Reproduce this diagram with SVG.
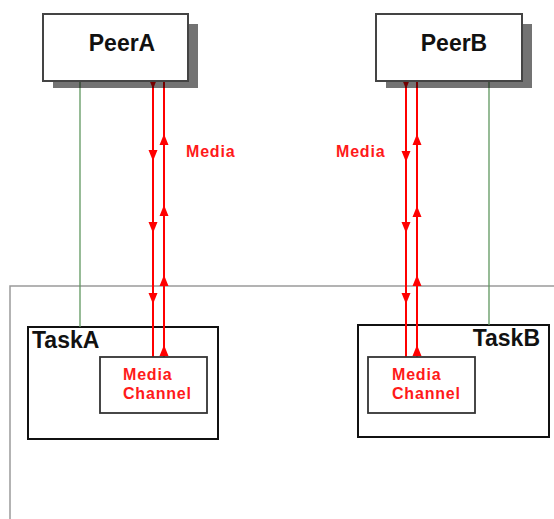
<svg xmlns="http://www.w3.org/2000/svg" xmlns:xlink="http://www.w3.org/1999/xlink" width="554" height="519" viewBox="0 0 554 519">
<style>
.frame{fill:none;stroke:#9a9a9a;stroke-width:1.5}
.peer{fill:#fff;stroke:#444;stroke-width:2}
.shadow{fill:#000;opacity:0.55}
.task{fill:#fff;stroke:#111;stroke-width:2}
.chan{fill:#fff;stroke:#333;stroke-width:1.8}
.red{stroke:#ff0000;stroke-width:2;fill:none}
.grn{stroke:#5f975f;stroke-width:1.3;fill:none}
.ah{fill:#ff0000}
.t{font-family:"Liberation Sans",Arial,sans-serif;font-weight:bold}
.big{font-size:23px;fill:#111}
.lbl{font-size:16px;letter-spacing:0.8px;fill:#ff1a1a}
</style>
<defs>
<path id="dn" d="M0,0 L-4.5,-11 L4.5,-11 Z"/>
<path id="up" d="M0,0 L-4.5,11 L4.5,11 Z"/>
</defs>
<polyline class="frame" points="10,519 10,286 554,286"/>
<g id="TaskA">
<rect class="task" x="28" y="327" width="190" height="112"/>
<text class="t big" x="32" y="348">TaskA</text>
</g>
<g id="TaskB">
<rect class="task" x="358" y="325" width="191" height="112"/>
<text class="t big" x="540" y="346" text-anchor="end">TaskB</text>
</g>
<g id="connectors">
<line class="grn" x1="80" y1="81" x2="80" y2="327"/>
<line class="grn" x1="489" y1="81" x2="489" y2="325"/>
<line class="red" x1="153" y1="81" x2="153" y2="357"/>
<line class="red" x1="164" y1="81" x2="164" y2="357"/>
<line class="red" x1="406" y1="81" x2="406" y2="357"/>
<line class="red" x1="417" y1="81" x2="417" y2="357"/>
<g class="ah">
<use xlink:href="#dn" x="153" y="89"/>
<use xlink:href="#dn" x="153" y="161"/>
<use xlink:href="#dn" x="153" y="233"/>
<use xlink:href="#dn" x="153" y="304"/>
<use xlink:href="#up" x="164" y="134"/>
<use xlink:href="#up" x="164" y="205"/>
<use xlink:href="#up" x="164" y="275"/>
<use xlink:href="#up" x="164" y="345"/>
<use xlink:href="#dn" x="406" y="89"/>
<use xlink:href="#dn" x="406" y="162"/>
<use xlink:href="#dn" x="406" y="233"/>
<use xlink:href="#dn" x="406" y="304"/>
<use xlink:href="#up" x="417" y="134"/>
<use xlink:href="#up" x="417" y="206"/>
<use xlink:href="#up" x="417" y="275"/>
<use xlink:href="#up" x="417" y="345"/>
</g>
<text class="t lbl" x="186" y="157">Media</text>
<text class="t lbl" x="336" y="157">Media</text>
</g>
<g id="MediaChannelA">
<rect class="chan" x="100" y="357" width="107" height="56"/>
<text class="t lbl" x="123" y="380">Media</text>
<text class="t lbl" x="123" y="398.5">Channel</text>
</g>
<g id="MediaChannelB">
<rect class="chan" x="368" y="357" width="107" height="56"/>
<text class="t lbl" x="392" y="380">Media</text>
<text class="t lbl" x="392" y="398.5">Channel</text>
</g>
<g id="PeerA">
<rect class="shadow" x="53" y="24" width="145" height="64"/>
<rect class="peer" x="43" y="14" width="145" height="67"/>
<text class="t big" x="122" y="51" text-anchor="middle">PeerA</text>
</g>
<g id="PeerB">
<rect class="shadow" x="386" y="24" width="146" height="64"/>
<rect class="peer" x="376" y="14" width="146" height="67"/>
<text class="t big" x="454" y="51" text-anchor="middle">PeerB</text>
</g>
</svg>
